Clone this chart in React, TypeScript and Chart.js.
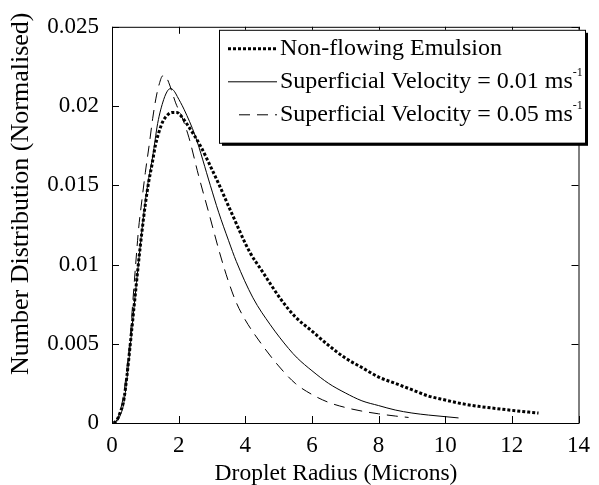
import React, { useEffect, useRef } from "react";
import { Chart, registerables } from "chart.js";

Chart.register(...registerables);

const FONT = '"Liberation Serif", "Times New Roman", Times, serif';

// Non-flowing emulsion (thick dotted)
const nonFlowX = [0.05, 0.15, 0.25, 0.35, 0.45, 0.55, 0.67, 0.79, 0.9, 1.0, 1.1, 1.2, 1.3, 1.4, 1.52, 1.65, 1.8, 1.95, 2.1, 2.3, 2.65, 3.0, 3.2, 3.6, 4.13, 4.5, 5.07, 5.5, 6.0, 6.5, 7.0, 7.5, 8.0, 8.5, 9.0, 9.5, 10.0, 10.5, 11.0, 11.5, 12.0, 12.5, 12.8];
const nonFlowY = [0, 0.0002, 0.0007, 0.0014, 0.003, 0.005, 0.0075, 0.01, 0.0121, 0.0138, 0.0152, 0.0163, 0.0175, 0.0183, 0.019, 0.0194, 0.0196, 0.0196, 0.0193, 0.0187, 0.0175, 0.016, 0.0151, 0.0132, 0.0108, 0.0096, 0.0078, 0.0067, 0.0058, 0.0049, 0.0041, 0.0035, 0.0029, 0.0025, 0.0021, 0.0017, 0.00145, 0.00122, 0.00105, 0.00092, 0.0008, 0.00069, 0.00063];

// Superficial velocity 0.01 m/s (solid)
const v001X = [0.05, 0.15, 0.25, 0.35, 0.45, 0.55, 0.67, 0.8, 0.9, 1.0, 1.1, 1.22, 1.37, 1.55, 1.68, 1.77, 1.88, 1.96, 2.16, 2.5, 2.95, 3.2, 3.5, 3.73, 4.23, 4.75, 5.3, 5.56, 6.0, 6.5, 7.0, 7.5, 8.0, 8.5, 9.0, 9.5, 10.0, 10.4];
const v001Y = [0, 0.0001, 0.0005, 0.0012, 0.0028, 0.0049, 0.0075, 0.0102, 0.0122, 0.014, 0.0154, 0.0168, 0.0189, 0.0204, 0.021, 0.0211, 0.0209, 0.0206, 0.0198, 0.0181, 0.015, 0.0133, 0.0115, 0.0102, 0.0079, 0.0062, 0.0047, 0.0041, 0.0033, 0.0025, 0.0019, 0.0014, 0.0011, 0.00082, 0.00063, 0.0005, 0.0004, 0.00032];

// Superficial velocity 0.05 m/s (dashed)
const v005X = [0.05, 0.15, 0.25, 0.35, 0.45, 0.55, 0.63, 0.71, 0.8, 0.9, 1.0, 1.12, 1.22, 1.32, 1.42, 1.52, 1.6, 1.7, 1.8, 1.91, 2.1, 2.31, 2.6, 2.9, 3.25, 3.5, 3.73, 4.0, 4.48, 5.0, 5.5, 6.0, 6.5, 7.0, 7.5, 8.0, 8.5, 8.9];
const v005Y = [0, 0.0002, 0.0008, 0.0018, 0.0035, 0.0055, 0.0078, 0.01, 0.0123, 0.0141, 0.0158, 0.0176, 0.0192, 0.0205, 0.0214, 0.0219, 0.0219, 0.0215, 0.0209, 0.0202, 0.0193, 0.018, 0.0156, 0.0133, 0.0106, 0.0089, 0.0076, 0.0065, 0.005, 0.0036, 0.0025, 0.0018, 0.0013, 0.00098, 0.00075, 0.00058, 0.00044, 0.00035];

const xTicks = [0, 2, 4, 6, 8, 10, 12, 14];
const yTicks = [0, 0.005, 0.01, 0.015, 0.02, 0.025];
const seriesLabels = ["Non-flowing Emulsion", "Superficial Velocity = 0.01 ms", "Superficial Velocity = 0.05 ms"];
const seriesSup = ["", "-1", "-1"];
const xTitle = "Droplet Radius (Microns)";
const yTitle = "Number Distribution (Normalised)";

const toPoints = (xs: number[], ys: number[]) => xs.map((x, i) => ({ x, y: ys[i] }));

const framePlugin = {
  id: "frameAndLegend",
  afterDraw(chart: any) {
    const { ctx, chartArea: ca, scales } = chart;
    const xs = scales.x;
    const ys = scales.y;
    ctx.save();
    ctx.strokeStyle = "#000";
    ctx.lineWidth = 1;
    ctx.setLineDash([]);
    // frame
    ctx.strokeRect(ca.left + 0.5, ca.top + 0.5, ca.right - ca.left, ca.bottom - ca.top);
    const tl = 7;
    ctx.beginPath();
    xTicks.forEach((v) => {
      const px = Math.round(xs.getPixelForValue(v)) + 0.5;
      ctx.moveTo(px, ca.bottom);
      ctx.lineTo(px, ca.bottom - tl);
      ctx.moveTo(px, ca.top);
      ctx.lineTo(px, ca.top + tl);
    });
    yTicks.forEach((v) => {
      const py = Math.round(ys.getPixelForValue(v)) + 0.5;
      ctx.moveTo(ca.left, py);
      ctx.lineTo(ca.left + tl, py);
      ctx.moveTo(ca.right, py);
      ctx.lineTo(ca.right - tl, py);
    });
    ctx.stroke();

    // axis titles
    ctx.fillStyle = "#000";
    ctx.textAlign = "center";
    ctx.textBaseline = "middle";
    ctx.font = `23.5px ${FONT}`;
    ctx.fillText(xTitle, ca.left + 224, ca.bottom + 51);
    ctx.save();
    ctx.font = `26px ${FONT}`;
    ctx.translate(21, ca.top + 167);
    ctx.rotate(-Math.PI / 2);
    ctx.fillText(yTitle, 0, 0);
    ctx.restore();

    // legend
    const L = ca.left + 107;
    const T = ca.top + 3;
    const W = 366;
    const H = 113;
    ctx.fillStyle = "#000";
    ctx.fillRect(L + 3, T + 3, W, H);
    ctx.fillStyle = "#fff";
    ctx.fillRect(L, T, W, H);
    ctx.strokeRect(L + 0.5, T + 0.5, W, H);
    chart.data.datasets.forEach((ds: any, i: number) => {
      const y = T + 19 + i * 33;
      ctx.save();
      ctx.strokeStyle = "#000";
      ctx.lineWidth = ds.borderWidth;
      ctx.setLineDash(ds.borderDash || []);
      ctx.beginPath();
      const x0 = i === 2 ? L + 20 : L + 9;
      ctx.moveTo(x0, y);
      ctx.lineTo(L + 58, y);
      ctx.stroke();
      ctx.restore();
      ctx.fillStyle = "#000";
      ctx.font = `24px ${FONT}`;
      ctx.textBaseline = "middle";
      ctx.textAlign = "left";
      ctx.fillText(seriesLabels[i], L + 61, y);
      if (seriesSup[i]) {
        const w = ctx.measureText(seriesLabels[i]).width;
        ctx.font = `12px ${FONT}`;
        ctx.fillText(seriesSup[i], L + 61 + w, y - 9);
      }
    });
    ctx.restore();
  },
};

export default function App() {
  const ref = useRef<HTMLCanvasElement>(null);
  useEffect(() => {
    if (!ref.current) return;
    const chart = new Chart(ref.current, {
      type: "line",
      data: {
        datasets: [
          {
            label: seriesLabels[0],
            data: toPoints(nonFlowX, nonFlowY),
            borderColor: "#000",
            borderWidth: 3,
            borderDash: [3, 2],
            pointRadius: 0,
            fill: false,
            cubicInterpolationMode: "monotone",
          },
          {
            label: seriesLabels[1],
            data: toPoints(v001X, v001Y),
            borderColor: "#000",
            borderWidth: 1,
            borderDash: [],
            pointRadius: 0,
            fill: false,
            cubicInterpolationMode: "monotone",
          },
          {
            label: seriesLabels[2],
            data: toPoints(v005X, v005Y),
            borderColor: "#000",
            borderWidth: 1,
            borderDash: [11, 7],
            pointRadius: 0,
            fill: false,
            cubicInterpolationMode: "monotone",
          },
        ],
      },
      options: {
        animation: false,
        responsive: false,
        devicePixelRatio: 1,
        layout: { padding: { left: 0, top: 23, right: 14, bottom: 0 } },
        plugins: { legend: { display: false }, tooltip: { enabled: false } },
        scales: {
          x: {
            type: "linear",
            min: 0,
            max: 14,
            afterFit: (s: any) => {
              s.height = 62;
            },
            afterBuildTicks: (s: any) => {
              s.ticks = xTicks.map((v) => ({ value: v }));
            },
            ticks: {
              color: "#000",
              font: { family: FONT, size: 23 },
              padding: 9,
              maxRotation: 0,
              autoSkip: false,
              callback: (v: any) => String(v),
            },
            grid: { display: false, drawTicks: false },
            border: { display: false },
            title: { display: false },
          },
          y: {
            type: "linear",
            min: 0,
            max: 0.025,
            afterFit: (s: any) => {
              s.width = 112;
            },
            afterBuildTicks: (s: any) => {
              s.ticks = yTicks.map((v) => ({ value: v }));
            },
            ticks: {
              color: "#000",
              font: { family: FONT, size: 23 },
              padding: 13,
              autoSkip: false,
              callback: (v: any) => String(Number(Number(v).toFixed(3))),
            },
            grid: { display: false, drawTicks: false },
            border: { display: false },
            title: { display: false },
          },
        },
      },
      plugins: [framePlugin],
    });
    return () => chart.destroy();
  }, []);
  return (
    <div style={{ position: "fixed", left: 0, top: 0, width: 599, height: 485, background: "#fff" }}>
      <canvas ref={ref} width={599} height={485} style={{ display: "block", width: 599, height: 485 }} />
    </div>
  );
}
